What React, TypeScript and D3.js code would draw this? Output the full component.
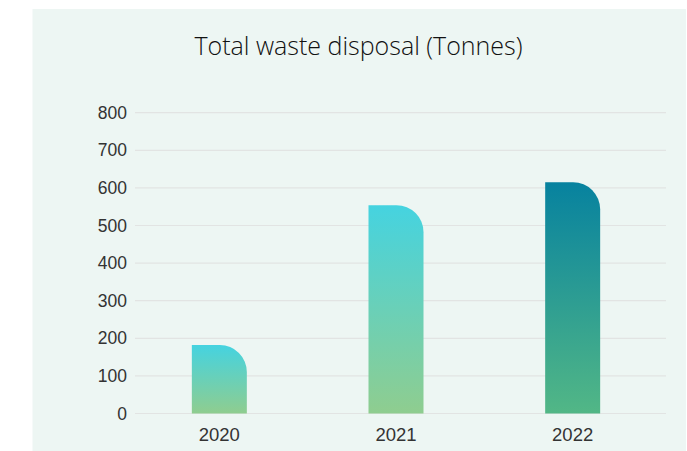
import * as d3 from "d3";
import { useEffect, useRef } from "react";

const years = ["2020", "2021", "2022"];
const disposal = [182, 554, 615];
const yTicks = [0, 100, 200, 300, 400, 500, 600, 700, 800];
const gradients = [
  ["#45d3e0", "#8fcd8f"],
  ["#45d3e0", "#8fcd8f"],
  ["#07829f", "#52b786"],
];

export default function App() {
  const ref = useRef<SVGSVGElement>(null);

  useEffect(() => {
    const svg = d3.select(ref.current);
    svg.selectAll("*").remove();
    const height = 451;

    svg.append("rect")
      .attr("x", 32.5).attr("y", 9)
      .attr("width", 653.5).attr("height", height - 9)
      .attr("fill", "#edf6f3");

    const x = d3.scaleBand().domain(years).range([131, 661]).padding(0);
    const y = d3.scaleLinear().domain([0, 800]).range([413.5, 112.7]);

    const defs = svg.append("defs");
    gradients.forEach((g, i) => {
      const lg = defs.append("linearGradient")
        .attr("id", `grad${i}`)
        .attr("x1", 0).attr("y1", 0).attr("x2", 0).attr("y2", 1);
      lg.append("stop").attr("offset", "0%").attr("stop-color", g[0]);
      lg.append("stop").attr("offset", "100%").attr("stop-color", g[1]);
    });

    svg.append("g")
      .selectAll("line")
      .data(yTicks)
      .join("line")
      .attr("x1", 135).attr("x2", 666)
      .attr("y1", d => y(d)).attr("y2", d => y(d))
      .attr("stroke", "#e2e4e3")
      .attr("stroke-width", 1.2);

    svg.append("g")
      .selectAll("text")
      .data(yTicks)
      .join("text")
      .attr("x", 127)
      .attr("y", d => y(d))
      .attr("dy", "0.35em")
      .attr("text-anchor", "end")
      .attr("font-family", "'Liberation Sans', Arial, sans-serif")
      .attr("font-size", 17.5)
      .attr("fill", "#333")
      .text(d => d);

    const barW = 55;
    const r = 27;
    svg.append("g")
      .selectAll("path")
      .data(years.map((yr, i) => ({ yr, v: disposal[i], i })))
      .join("path")
      .attr("d", d => {
        const x0 = x(d.yr)! + x.bandwidth() / 2 - barW / 2;
        const x1 = x0 + barW;
        const y0 = y(d.v), yb = y(0);
        const p = d3.path();
        p.moveTo(x0, yb);
        p.lineTo(x0, y0);
        p.lineTo(x1 - r, y0);
        p.arcTo(x1, y0, x1, y0 + r, r);
        p.lineTo(x1, yb);
        p.closePath();
        return p.toString();
      })
      .attr("fill", d => `url(#grad${d.i})`);

    svg.append("g")
      .selectAll("text")
      .data(years)
      .join("text")
      .attr("x", d => x(d)! + x.bandwidth() / 2)
      .attr("y", 440.5)
      .attr("text-anchor", "middle")
      .attr("font-family", "'Liberation Sans', Arial, sans-serif")
      .attr("font-size", 18.5)
      .attr("fill", "#333")
      .text(d => d);

    svg.append("text")
      .attr("x", 358.5)
      .attr("y", 55)
      .attr("text-anchor", "middle")
      .attr("font-family", "'Open Sans', sans-serif")
      .attr("font-weight", 300)
      .attr("font-size", 25)
      .attr("fill", "#111")
      .text("Total waste disposal (Tonnes)");
  }, []);

  return (
    <svg ref={ref} width={687} height={451}
      style={{ position: "absolute", left: 0, top: 0 }} />
  );
}
